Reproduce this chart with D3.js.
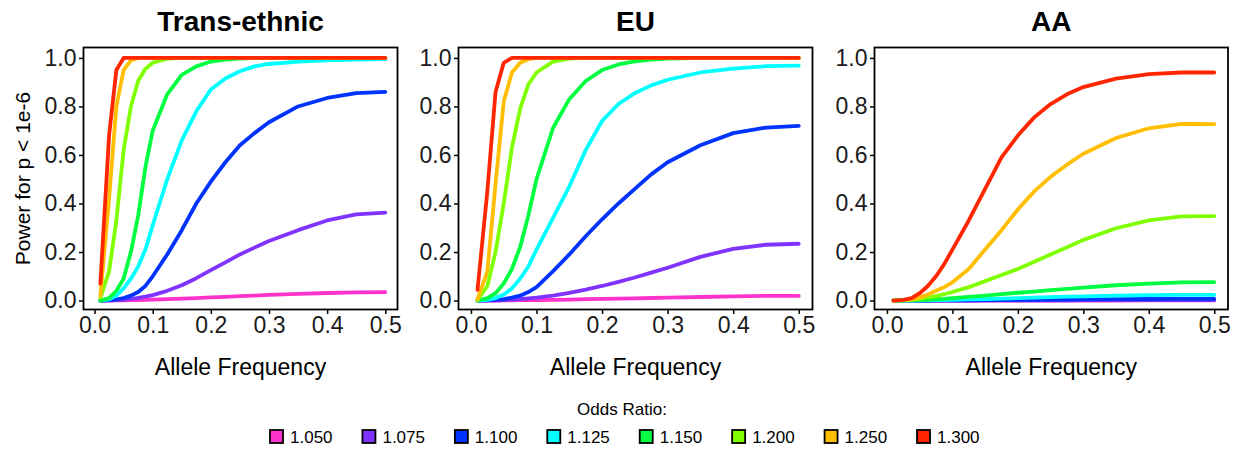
<!DOCTYPE html>
<html>
<head>
<meta charset="utf-8">
<script src="https://cdn.jsdelivr.net/npm/d3@7"></script>
<style>
  html, body { margin: 0; padding: 0; background: #fff; }
  svg { display: block; font-family: "Liberation Sans", Arial, sans-serif; }
</style>
</head>
<body>
<svg id="chart" width="1241" height="449"></svg>
<script>
// Allele frequencies at which power was evaluated
const alleleFreq = [0.01, 0.025, 0.0375, 0.05, 0.0625, 0.075, 0.0875, 0.1, 0.125, 0.15,
                    0.175, 0.2, 0.225, 0.25, 0.275, 0.3, 0.35, 0.4, 0.45, 0.5];

const oddsRatios = ["1.050", "1.075", "1.100", "1.125", "1.150", "1.200", "1.250", "1.300"];
const orColors   = ["#FF33CC", "#8033FF", "#0033FF", "#00FFFF", "#00FF40", "#80FF00", "#FFBF00", "#FF2600"];

const panelTitles = ["Trans-ethnic", "EU", "AA"];
const xTicks = [0, 0.1, 0.2, 0.3, 0.4, 0.5];
const yTicks = [0, 0.2, 0.4, 0.6, 0.8, 1.0];

// Trans-ethnic power
const te1050 = [0, 0, 0.0005, 0.001, 0.0015, 0.002, 0.003, 0.004, 0.006, 0.008, 0.01, 0.013, 0.015, 0.018, 0.02, 0.023, 0.027, 0.031, 0.034, 0.035];
const te1075 = [0, 0.001, 0.002, 0.004, 0.007, 0.011, 0.016, 0.022, 0.04, 0.063, 0.092, 0.125, 0.157, 0.19, 0.218, 0.245, 0.29, 0.33, 0.355, 0.362];
const te1100 = [0, 0.002, 0.005, 0.01, 0.02, 0.035, 0.06, 0.10, 0.19, 0.29, 0.40, 0.49, 0.57, 0.64, 0.69, 0.735, 0.80, 0.835, 0.855, 0.86];
const te1125 = [0, 0.005, 0.02, 0.05, 0.09, 0.14, 0.21, 0.31, 0.50, 0.66, 0.78, 0.87, 0.915, 0.945, 0.965, 0.975, 0.985, 0.99, 0.993, 0.995];
const te1150 = [0, 0.01, 0.04, 0.09, 0.2, 0.35, 0.55, 0.7, 0.85, 0.93, 0.965, 0.985, 0.993, 0.997, 1, 1, 1, 1, 1, 1];
const te1200 = [0.01, 0.12, 0.33, 0.62, 0.8, 0.905, 0.955, 0.98, 0.997, 1, 1, 1, 1, 1, 1, 1, 1, 1, 1, 1];
const te1250 = [0.02, 0.42, 0.8, 0.95, 0.99, 1, 1, 1, 1, 1, 1, 1, 1, 1, 1, 1, 1, 1, 1, 1];
const te1300 = [0.07, 0.68, 0.95, 1, 1, 1, 1, 1, 1, 1, 1, 1, 1, 1, 1, 1, 1, 1, 1, 1];

// EU power
const eu1050 = [0, 0, 0, 0.0005, 0.001, 0.0013, 0.0016, 0.002, 0.003, 0.004, 0.0055, 0.007, 0.008, 0.009, 0.0105, 0.012, 0.0145, 0.017, 0.019, 0.019];
const eu1075 = [0, 0.0005, 0.001, 0.002, 0.004, 0.006, 0.009, 0.012, 0.02, 0.032, 0.045, 0.06, 0.077, 0.095, 0.115, 0.135, 0.18, 0.213, 0.23, 0.234];
const eu1100 = [0, 0.001, 0.003, 0.006, 0.012, 0.02, 0.035, 0.055, 0.12, 0.19, 0.265, 0.335, 0.40, 0.46, 0.52, 0.57, 0.64, 0.69, 0.713, 0.72];
const eu1125 = [0, 0.003, 0.01, 0.025, 0.05, 0.09, 0.14, 0.21, 0.34, 0.47, 0.62, 0.74, 0.81, 0.855, 0.887, 0.91, 0.94, 0.956, 0.966, 0.968];
const eu1150 = [0, 0.01, 0.03, 0.07, 0.13, 0.22, 0.35, 0.5, 0.71, 0.83, 0.905, 0.95, 0.973, 0.986, 0.993, 0.997, 1, 1, 1, 1];
const eu1200 = [0.002, 0.06, 0.2, 0.4, 0.63, 0.79, 0.89, 0.94, 0.985, 0.997, 1, 1, 1, 1, 1, 1, 1, 1, 1, 1];
const eu1250 = [0.005, 0.12, 0.48, 0.82, 0.94, 0.98, 0.995, 1, 1, 1, 1, 1, 1, 1, 1, 1, 1, 1, 1, 1];
const eu1300 = [0.044, 0.45, 0.86, 0.98, 1, 1, 1, 1, 1, 1, 1, 1, 1, 1, 1, 1, 1, 1, 1, 1];

// AA power
const aa1050 = [0, 0, 0, 0, 0, 0, 0, 0, 0, 0, 0, 0, 0, 0, 0, 0, 0, 0.0005, 0.0005, 0.0005];
const aa1075 = [0, 0, 0, 0, 0, 0, 0, 0, 0, 0.0003, 0.0005, 0.0007, 0.0009, 0.001, 0.0012, 0.0014, 0.0017, 0.002, 0.002, 0.002];
const aa1100 = [0, 0, 0, 0, 0, 0.0003, 0.0005, 0.0007, 0.001, 0.0015, 0.002, 0.0025, 0.003, 0.0035, 0.004, 0.0045, 0.0055, 0.0063, 0.0068, 0.007];
const aa1125 = [0, 0, 0, 0.0005, 0.001, 0.0015, 0.002, 0.003, 0.0045, 0.006, 0.008, 0.01, 0.012, 0.014, 0.016, 0.017, 0.02, 0.022, 0.023, 0.023];
const aa1150 = [0, 0, 0.001, 0.002, 0.003, 0.005, 0.007, 0.01, 0.015, 0.02, 0.026, 0.032, 0.037, 0.043, 0.048, 0.053, 0.063, 0.07, 0.075, 0.076];
const aa1200 = [0, 0.001, 0.003, 0.007, 0.012, 0.018, 0.026, 0.035, 0.055, 0.08, 0.105, 0.13, 0.16, 0.19, 0.22, 0.25, 0.298, 0.33, 0.347, 0.348];
const aa1250 = [0, 0.002, 0.005, 0.012, 0.025, 0.04, 0.055, 0.075, 0.13, 0.21, 0.29, 0.375, 0.45, 0.51, 0.56, 0.605, 0.67, 0.71, 0.728, 0.727];
const aa1300 = [0, 0.003, 0.01, 0.03, 0.06, 0.1, 0.15, 0.21, 0.33, 0.46, 0.59, 0.68, 0.755, 0.81, 0.85, 0.88, 0.915, 0.933, 0.94, 0.94];

const panelSeries = [
  [te1050, te1075, te1100, te1125, te1150, te1200, te1250, te1300],
  [eu1050, eu1075, eu1100, eu1125, eu1150, eu1200, eu1250, eu1300],
  [aa1050, aa1075, aa1100, aa1125, aa1150, aa1200, aa1250, aa1300]
];

// Panel frames (pixel extents of each plotting area)
const frames = [
  { left: 83.5,  right: 397.5 },
  { left: 458.5, right: 812.5 },
  { left: 874.5, right: 1228 }
];
const plotTop = 47.5, plotBottom = 309.5;
const xLim = [-0.019, 0.521];
const yLim = [-0.037, 1.043];

const svg = d3.select("#chart");
const y = d3.scaleLinear().domain(yLim).range([plotBottom, plotTop]);

frames.forEach((f, p) => {
  const x = d3.scaleLinear().domain(xLim).range([f.left, f.right]);
  const g = svg.append("g");

  // series lines
  const line = d3.line().x((d, i) => x(alleleFreq[i])).y(d => y(d));
  panelSeries[p].forEach((vals, s) => {
    g.append("path")
      .datum(vals)
      .attr("d", line)
      .attr("fill", "none")
      .attr("stroke", orColors[s])
      .attr("stroke-width", 3.8)
      .attr("stroke-linejoin", "round")
      .attr("stroke-linecap", "round");
  });

  // frame
  g.append("rect")
    .attr("x", f.left).attr("y", plotTop)
    .attr("width", f.right - f.left).attr("height", plotBottom - plotTop)
    .attr("fill", "none").attr("stroke", "#000").attr("stroke-width", 1.8);

  // axes
  const xAxis = d3.axisBottom(x).tickValues(xTicks).tickFormat(d3.format(".1f"))
    .tickSize(4.5).tickPadding(3);
  const gx = g.append("g").attr("transform", `translate(0,${plotBottom})`).call(xAxis);
  const yAxis = d3.axisLeft(y).tickValues(yTicks).tickFormat(d3.format(".1f"))
    .tickSize(4.5).tickPadding(2.5);
  const gy = g.append("g").attr("transform", `translate(${f.left},0)`).call(yAxis);
  [gx, gy].forEach(a => {
    a.select(".domain").remove();
    a.selectAll(".tick line").attr("stroke", "#000").attr("stroke-width", 1.5);
    a.selectAll(".tick text").attr("fill", "#1a1a1a")
      .style("font-size", "23px").style("font-family", "Liberation Sans, Arial, sans-serif");
  });

  // panel title
  svg.append("text")
    .attr("x", (f.left + f.right) / 2).attr("y", 31)
    .attr("text-anchor", "middle")
    .style("font-size", "28px").style("font-weight", "bold")
    .text(panelTitles[p]);

  // x-axis title
  svg.append("text")
    .attr("x", (f.left + f.right) / 2).attr("y", 375)
    .attr("text-anchor", "middle")
    .style("font-size", "23px")
    .text("Allele Frequency");
});

// y-axis title
svg.append("text")
  .attr("transform", `translate(30,${(plotTop + plotBottom) / 2}) rotate(-90)`)
  .attr("text-anchor", "middle")
  .style("font-size", "21px")
  .text("Power for p < 1e-6");

// legend
svg.append("text")
  .attr("x", 622).attr("y", 415)
  .attr("text-anchor", "middle")
  .style("font-size", "17px")
  .text("Odds Ratio:");

const legendX = d3.scalePoint().domain(oddsRatios).range([270, 917]);
const items = svg.append("g").selectAll("g").data(oddsRatios).join("g")
  .attr("transform", d => `translate(${legendX(d)},430)`);
items.append("rect")
  .attr("width", 13).attr("height", 13)
  .attr("fill", (d, i) => orColors[i])
  .attr("stroke", "#000").attr("stroke-width", 1.8);
items.append("text")
  .attr("x", 20).attr("y", 13)
  .style("font-size", "17px")
  .text(d => d);
</script>
</body>
</html>
